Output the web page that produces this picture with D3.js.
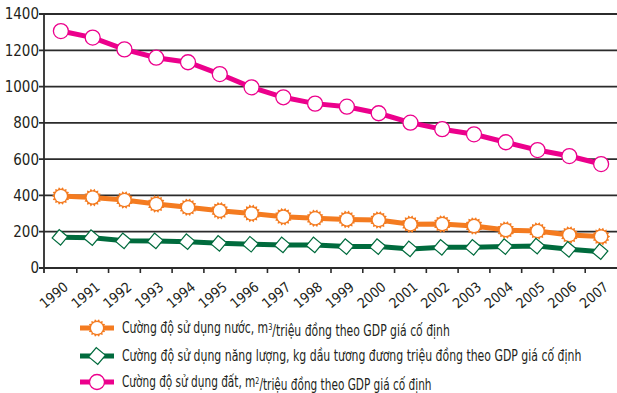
<!DOCTYPE html>
<html>
<head>
<meta charset="utf-8">
<script src="https://cdn.jsdelivr.net/npm/d3@7"></script>
<style>
  body { margin: 0; background: #fff; }
  text { font-family: "DejaVu Sans Condensed", "DejaVu Sans", sans-serif; font-stretch: condensed; fill: #231f20; }
</style>
</head>
<body>
<div id="chart"></div>
<script>
var years = ["1990","1991","1992","1993","1994","1995","1996","1997","1998",
  "1999","2000","2001","2002","2003","2004","2005","2006","2007"];
var yTicks = [0, 200, 400, 600, 800, 1000, 1200, 1400];

// water, m3 / million VND GDP
var water = [397, 388, 375, 353, 335, 316, 301, 283, 274, 268, 265, 241, 243, 232, 209, 204, 182, 173];
// energy, kg oil equivalent / million VND GDP
var energy = [169, 167, 150, 149, 145, 136, 131, 127, 127, 118, 118, 105, 114, 114, 118, 121, 103, 90];
// land, m2 / million VND GDP
var land = [1306, 1270, 1205, 1159, 1134, 1069, 996, 941, 906, 889, 853, 801, 765, 737, 693, 650, 617, 573];

var W = 617, H = 393;
var mLeft = 45, mRight = 617, mTop = 14, mBottom = 268;

var svg = d3.select("#chart").append("svg")
  .attr("width", W).attr("height", H);

var x = d3.scaleBand().domain(years).range([mLeft, mRight]).padding(0);
var y = d3.scaleLinear().domain([0, 1400]).range([mBottom, mTop]);

// grid lines + y ticks
svg.append("g").selectAll("line")
  .data(yTicks)
  .enter().append("line")
    .attr("x1", mLeft - 6).attr("x2", mRight)
    .attr("y1", function(d) { return y(d); })
    .attr("y2", function(d) { return y(d); })
    .attr("stroke", "#2b2b2b")
    .attr("stroke-width", 1.8);

svg.append("g").selectAll("text")
  .data(yTicks)
  .enter().append("text")
    .attr("x", mLeft - 6)
    .attr("y", function(d) { return y(d); })
    .attr("dy", "0.36em")
    .attr("text-anchor", "end")
    .style("font-size", "15px")
    .text(function(d) { return d; });

// y axis line
svg.append("line")
  .attr("x1", mLeft - 1).attr("x2", mLeft - 1)
  .attr("y1", mTop).attr("y2", mBottom + 5)
  .attr("stroke", "#2b2b2b").attr("stroke-width", 1.8);

// x ticks on band edges
svg.append("g").selectAll("line")
  .data(years.slice(0, -1))
  .enter().append("line")
    .attr("x1", function(d) { return x(d) + x.bandwidth(); })
    .attr("x2", function(d) { return x(d) + x.bandwidth(); })
    .attr("y1", mBottom).attr("y2", mBottom + 5)
    .attr("stroke", "#2b2b2b").attr("stroke-width", 1.6);

// x labels, rotated
svg.append("g").selectAll("text")
  .data(years)
  .enter().append("text")
    .attr("text-anchor", "end")
    .style("font-size", "14px")
    .attr("transform", function(d) {
      return "translate(" + (x(d) + x.bandwidth() / 2 + 2) + "," + (mBottom + 13) + ")rotate(-40)";
    })
    .attr("dy", "0.7em")
    .text(function(d) { return d; });

var cx = function(d, i) { return x(years[i]) + x.bandwidth() / 2; };

var line = d3.line()
  .x(function(d, i) { return cx(d, i); })
  .y(function(d) { return y(d); });

// sun marker shape
function sunPath(ro, ri, n) {
  var pts = [];
  for (var k = 0; k < n * 2; k++) {
    var r = k % 2 == 0 ? ro : ri;
    var a = Math.PI * k / n;
    pts.push([r * Math.cos(a), r * Math.sin(a)]);
  }
  return "M" + pts.join("L") + "Z";
}

var orange = "#f47b20", green = "#006b3d", pink = "#ec008c";

// water series
svg.append("path").datum(water)
  .attr("d", line).attr("fill", "none")
  .attr("stroke", orange).attr("stroke-width", 5);
var wm = svg.append("g").selectAll("g")
  .data(water)
  .enter().append("g")
    .attr("transform", function(d, i) { return "translate(" + cx(d, i) + "," + y(d) + ")"; });
wm.append("path").attr("d", sunPath(9, 7, 14)).attr("fill", orange);
wm.append("circle").attr("r", 6).attr("fill", "#fff");

// energy series
svg.append("path").datum(energy)
  .attr("d", line).attr("fill", "none")
  .attr("stroke", green).attr("stroke-width", 5);
svg.append("g").selectAll("rect")
  .data(energy)
  .enter().append("rect")
    .attr("x", -5.5).attr("y", -5.5).attr("width", 11).attr("height", 11)
    .attr("fill", "#fff").attr("stroke", green).attr("stroke-width", 1.2)
    .attr("transform", function(d, i) { return "translate(" + (cx(d, i) - 1) + "," + y(d) + ")rotate(40)"; });

// land series
svg.append("path").datum(land)
  .attr("d", line).attr("fill", "none")
  .attr("stroke", pink).attr("stroke-width", 5);
svg.append("g").selectAll("circle")
  .data(land)
  .enter().append("circle")
    .attr("cx", function(d, i) { return cx(d, i); })
    .attr("cy", function(d) { return y(d); })
    .attr("r", 7.5)
    .attr("fill", "#fff").attr("stroke", pink).attr("stroke-width", 1.3);

// legend
var legY = [328, 356, 382];
var lg = svg.append("g");

function legLine(yy, col) {
  lg.append("line").attr("x1", 80).attr("x2", 114)
    .attr("y1", yy).attr("y2", yy)
    .attr("stroke", col).attr("stroke-width", 5);
}
legLine(legY[0], orange);
lg.append("path").attr("d", sunPath(9, 7, 14)).attr("fill", orange)
  .attr("transform", "translate(97," + legY[0] + ")");
lg.append("circle").attr("cx", 97).attr("cy", legY[0]).attr("r", 6).attr("fill", "#fff");

legLine(legY[1], green);
lg.append("rect").attr("x", -6).attr("y", -6).attr("width", 12).attr("height", 12)
  .attr("fill", "#fff").attr("stroke", green).attr("stroke-width", 1.2)
  .attr("transform", "translate(97," + legY[1] + ")rotate(40)");

legLine(legY[2], pink);
lg.append("circle").attr("cx", 97).attr("cy", legY[2]).attr("r", 7.5)
  .attr("fill", "#fff").attr("stroke", pink).attr("stroke-width", 1.3);

// legend labels, squeezed horizontally to the widths of the reference
function legText(yy, width) {
  var t = lg.append("text").attr("y", 0).attr("dy", "0.35em").style("font-size", "15px");
  t.fit = function() {
    var s = width / t.node().getComputedTextLength();
    t.attr("transform", "translate(122," + yy + ")scale(" + s + ",1)");
  };
  return t;
}

var t1 = legText(legY[0], 328);
t1.append("tspan").text("Cường độ sử dụng nước, m");
t1.append("tspan").attr("dy", "-0.4em").style("font-size", "9px").text("3");
t1.append("tspan").attr("dy", "0.4em").text("/triệu đồng theo GDP giá cố định");
t1.fit();

var t2 = legText(legY[1], 460);
t2.text("Cường độ sử dụng năng lượng, kg dầu tương đương triệu đồng theo GDP giá cố định");
t2.fit();

var t3 = legText(legY[2], 310);
t3.append("tspan").text("Cường độ sử dụng đất, m");
t3.append("tspan").attr("dy", "-0.4em").style("font-size", "9px").text("2");
t3.append("tspan").attr("dy", "0.4em").text("/triệu đồng theo GDP giá cố định");
t3.fit();
</script>
</body>
</html>
